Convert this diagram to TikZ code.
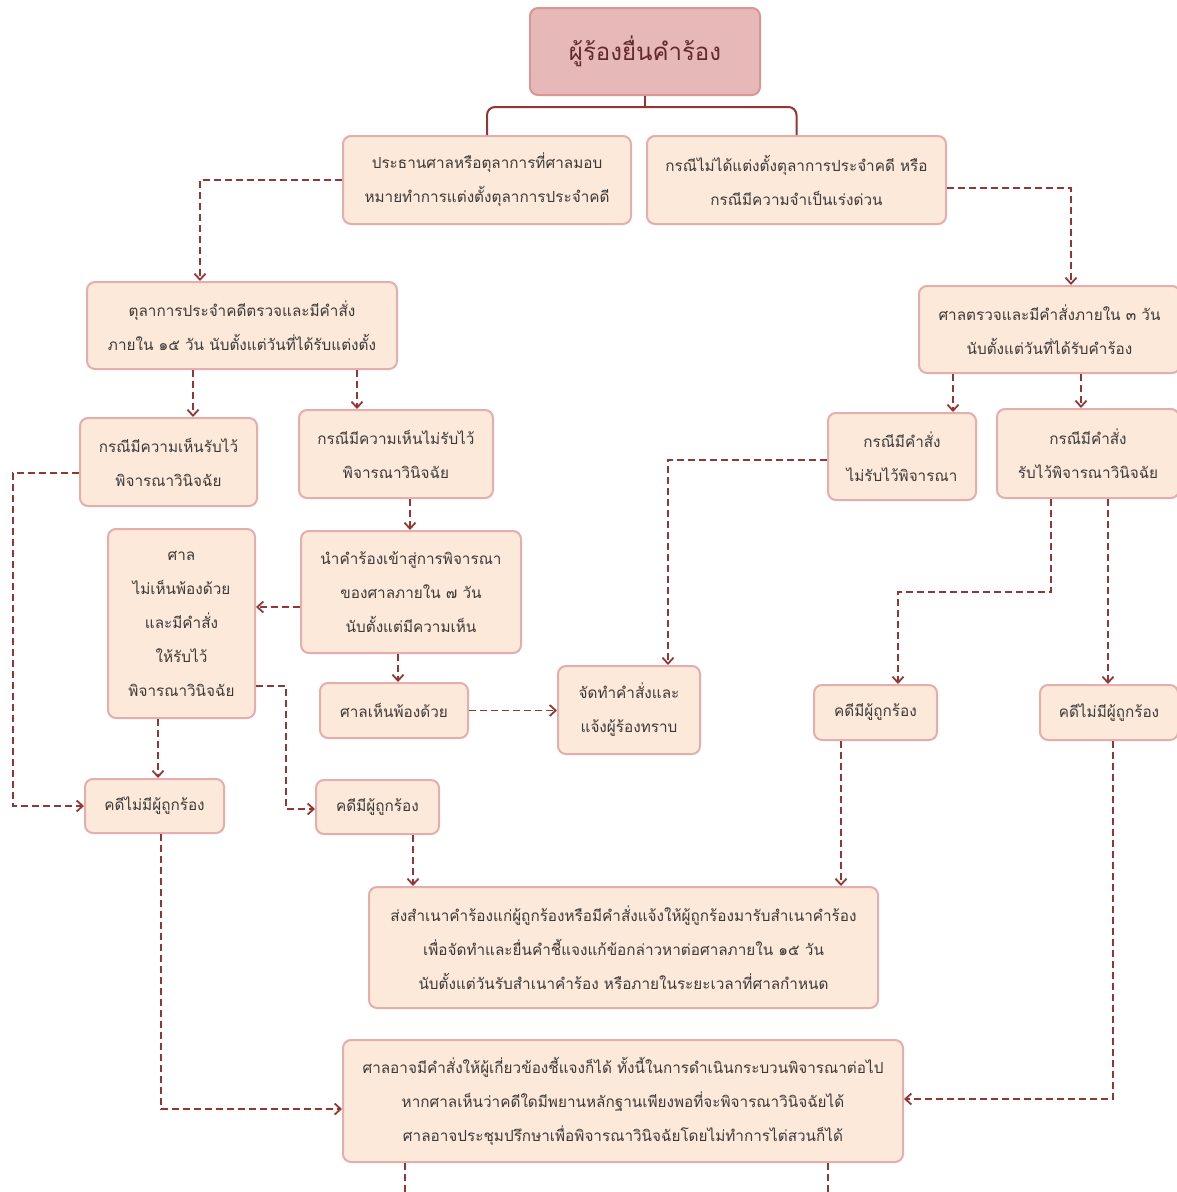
\documentclass[tikz,border=0pt]{standalone}
\usepackage{fontspec}
\newfontfamily\thaifont[Script=Thai]{Loma}
\usetikzlibrary{arrows.meta}
\definecolor{boxfill}{HTML}{FDE9D9}
\definecolor{boxline}{HTML}{E4AEAC}
\definecolor{topfill}{HTML}{E6B8B7}
\definecolor{topline}{HTML}{D99694}
\definecolor{connc}{HTML}{943634}
\definecolor{txt}{HTML}{3A3A3A}
\definecolor{toptxt}{HTML}{632A2A}
\begin{document}
\begin{tikzpicture}[x=1pt,y=-1pt,
  box/.style={draw=boxline, fill=boxfill, line width=2pt, rounded corners=8pt, align=center, text=txt,
    font=\thaifont\fontsize{15.3}{34}\selectfont, inner sep=0pt},
  wh/.style 2 args={minimum width=#1pt, minimum height=#2pt},
  topbox/.style={draw=topline, fill=topfill, line width=2pt, rounded corners=8pt, align=center, text=toptxt,
    font=\thaifont\fontsize{24}{28}\selectfont, inner sep=0pt},
  conn/.style={draw=connc, line width=1.8pt, dash pattern=on 7pt off 4pt, -{Straight Barb[length=6pt,width=11pt]}},
  dline/.style={draw=connc, line width=1.8pt, dash pattern=on 7pt off 4pt},
  tree/.style={draw=connc, line width=2pt, rounded corners=8pt}]
\fill[white] (0,0) rectangle (1176,1192);
\useasboundingbox (0,0) rectangle (1176,1192);

\node[topbox, wh={230}{87}] (top) at (645,51.5) {ผู้ร้องยื่นคำร้อง};
\node[box, wh={288}{88}] (A) at (487,180) {ประธานศาลหรือตุลาการที่ศาลมอบ\\หมายทำการแต่งตั้งตุลาการประจำคดี};
\node[box, wh={299}{88}] (B) at (796.5,180) {กรณีไม่ได้แต่งตั้งตุลาการประจำคดี หรือ\\กรณีมีความจำเป็นเร่งด่วน};
\node[box, wh={310}{87}] (C) at (242,325.5) {ตุลาการประจำคดีตรวจและมีคำสั่ง\\ภายใน ๑๕ วัน นับตั้งแต่วันที่ได้รับแต่งตั้ง};
\node[box, wh={261}{87}] (D) at (1049.5,329.5) {ศาลตรวจและมีคำสั่งภายใน ๓ วัน\\นับตั้งแต่วันที่ได้รับคำร้อง};
\node[box, wh={177}{88}] (E) at (168.5,462) {กรณีมีความเห็นรับไว้\\พิจารณาวินิจฉัย};
\node[box, wh={194}{88}] (F) at (396,454) {กรณีมีความเห็นไม่รับไว้\\พิจารณาวินิจฉัย};
\node[box, wh={148}{87}] (G) at (902,456.5) {กรณีมีคำสั่ง\\ไม่รับไว้พิจารณา};
\node[box, wh={182}{89}] (H) at (1088,453.5) {กรณีมีคำสั่ง\\รับไว้พิจารณาวินิจฉัย};
\node[box, wh={147}{189}] (I) at (181.5,623.5) {ศาล\\ไม่เห็นพ้องด้วย\\และมีคำสั่ง\\ให้รับไว้\\พิจารณาวินิจฉัย};
\node[box, wh={220}{122}] (J) at (411,592) {นำคำร้องเข้าสู่การพิจารณา\\ของศาลภายใน ๗ วัน\\นับตั้งแต่มีความเห็น};
\node[box, wh={148}{55}] (K) at (394,710.5) {ศาลเห็นพ้องด้วย};
\node[box, wh={142}{88}] (L) at (629,710) {จัดทำคำสั่งและ\\แจ้งผู้ร้องทราบ};
\node[box, wh={123}{55}] (M) at (875.5,712.5) {คดีมีผู้ถูกร้อง};
\node[box, wh={138}{55}] (N) at (1109,712.5) {คดีไม่มีผู้ถูกร้อง};
\node[box, wh={139}{54}] (O) at (154.5,806) {คดีไม่มีผู้ถูกร้อง};
\node[box, wh={123}{54}] (P) at (377.5,807) {คดีมีผู้ถูกร้อง};
\node[box, wh={509}{121}] (Q) at (623.5,947.5) {ส่งสำเนาคำร้องแก่ผู้ถูกร้องหรือมีคำสั่งแจ้งให้ผู้ถูกร้องมารับสำเนาคำร้อง\\เพื่อจัดทำและยื่นคำชี้แจงแก้ข้อกล่าวหาต่อศาลภายใน ๑๕ วัน\\นับตั้งแต่วันรับสำเนาคำร้อง หรือภายในระยะเวลาที่ศาลกำหนด};
\node[box, wh={560}{122}] (R) at (623,1101) {ศาลอาจมีคำสั่งให้ผู้เกี่ยวข้องชี้แจงก็ได้ ทั้งนี้ในการดำเนินกระบวนพิจารณาต่อไป\\หากศาลเห็นว่าคดีใดมีพยานหลักฐานเพียงพอที่จะพิจารณาวินิจฉัยได้\\ศาลอาจประชุมปรึกษาเพื่อพิจารณาวินิจฉัยโดยไม่ทำการไต่สวนก็ได้};

\coordinate (end1) at (405,1192);
\coordinate (end2) at (828,1192);

% tree from top
\draw[tree] (top.south) -- ++(0,11);
\draw[tree] (A.north) |- ([yshift=-11pt]top.south) -| (B.north);

% dashed connectors
\draw[conn] (A.west) -| ([xshift=-42pt]C.north);
\draw[conn] ([yshift=-8pt]B.east) -| ([xshift=21.5pt]D.north);
\draw[conn] ([xshift=-49pt]C.south) -- ([xshift=24.5pt]E.north);
\draw[conn] ([xshift=115pt]C.south) -- ([xshift=-39pt]F.north);
\draw[conn] ([xshift=-96.5pt]D.south) -- ([xshift=51pt]G.north);
\draw[conn] ([xshift=31.5pt]D.south) -- ([xshift=-7pt]H.north);
\draw[conn] ([xshift=14pt]F.south) -- ([xshift=-1pt]J.north);
\draw[conn] ([yshift=-15pt]J.west) -- ([yshift=16.5pt]I.east);
\draw[conn] ([xshift=-13pt]J.south) -- ([xshift=4pt]K.north);
\draw[conn] (K.east) -- (K.east -| L.west);
\draw[conn] ([yshift=-3.5pt]G.west) -| ([xshift=39pt]L.north);
\draw[conn] ([xshift=-37pt]H.south) -- ++(0,93) -| ([xshift=22.5pt]M.north);
\draw[conn] ([xshift=20pt]H.south) -- ([xshift=-1pt]N.north);
\draw[conn] ([yshift=-11pt]E.west) -- ++(-66,0) |- (O.west);
\draw[conn] ([xshift=-23.5pt]I.south) -- ([xshift=3.5pt]O.north);
\draw[conn] ([yshift=-62.5pt]I.east) -- ++(30,0) |- ([yshift=-2pt]P.west);
\draw[conn] ([xshift=35.5pt]P.south) -- ([xshift=-210.5pt]Q.north);
\draw[conn] ([xshift=-34.5pt]M.south) -- ([xshift=217.5pt]Q.north);
\draw[conn] ([xshift=6.5pt]O.south) |- ([yshift=-8pt]R.west);
\draw[conn] ([xshift=4pt]N.south) |- ([yshift=2pt]R.east);
\draw[dline] ([xshift=-218pt]R.south) -- (end1);
\draw[dline] ([xshift=205pt]R.south) -- (end2);
\end{tikzpicture}
\end{document}
